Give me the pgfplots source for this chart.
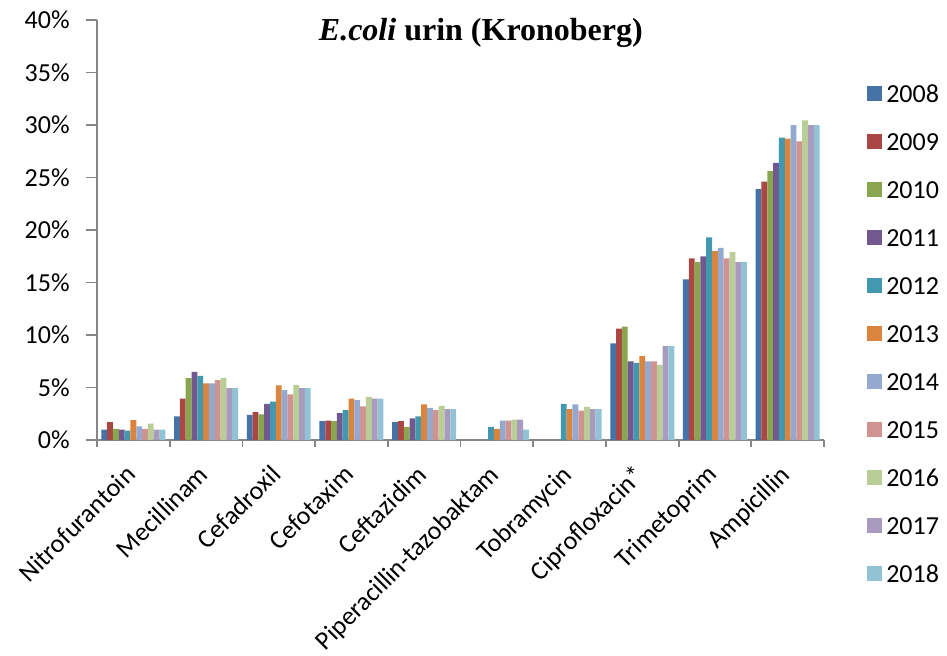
\documentclass[border=0pt]{standalone}
\usepackage{pgfplots}
\pgfplotsset{compat=1.18}
\usepackage{pgfplotstable}
\usepackage{fontspec}
\setmainfont{Carlito}
\newfontfamily\timesfont{Liberation Serif}
\definecolor{c1}{HTML}{4572A7}
\definecolor{c2}{HTML}{AA4643}
\definecolor{c3}{HTML}{89A54E}
\definecolor{c4}{HTML}{71588F}
\definecolor{c5}{HTML}{4198AF}
\definecolor{c6}{HTML}{DB843D}
\definecolor{c7}{HTML}{93A9CF}
\definecolor{c8}{HTML}{D19392}
\definecolor{c9}{HTML}{B9CD96}
\definecolor{c10}{HTML}{A99BBD}
\definecolor{c11}{HTML}{91C3D5}
\definecolor{axisgray}{HTML}{868686}

\pgfplotstableread{
x  a     b     c     d     e     f     g     h     i     j     k
0  1.0   1.7   1.05  1.0   0.9   1.9   1.3   1.05  1.55  1.0   1.0
1  2.25  3.95  5.9   6.5   6.1   5.4   5.4   5.7   5.9   4.95  4.95
2  2.4   2.65  2.45  3.45  3.65  5.2   4.75  4.35  5.25  4.95  4.95
3  1.8   1.85  1.8   2.55  2.85  3.95  3.8   3.2   4.1   3.95  3.95
4  1.7   1.8   1.25  2.05  2.25  3.4   3.05  2.85  3.25  2.95  2.95
5  nan   nan   nan   nan   1.25  1.05  1.85  1.85  1.95  1.95  1.0
6  nan   nan   nan   nan   3.45  2.95  3.4   2.8   3.15  2.95  2.95
7  9.2   10.6  10.8  7.5   7.35  8.0   7.5   7.5   7.15  8.95  8.95
8  15.3  17.3  16.95 17.5  19.3  18.0  18.3  17.3  17.9  16.95 16.95
9  23.9  24.6  25.6  26.4  28.8  28.7  30.0  28.45 30.45 30.0  30.0
}\datatable

\begin{document}
\begin{tikzpicture}
\begin{axis}[
  scale only axis, width=363.5bp, height=210bp,
  at={(0,0)}, anchor=south west,
  xmin=-0.5, xmax=9.5, ymin=0, ymax=40,
  ybar, bar width=0.08,
  axis x line*=bottom, axis y line*=left,
  axis line style={draw=axisgray, line width=0.9bp, -},
  tick align=outside,
  major tick length=5.5bp, minor tick length=3.5bp,
  ytick={0,5,...,40},
  yticklabels={0\%,5\%,10\%,15\%,20\%,25\%,30\%,35\%,40\%},
  ytick style={draw=axisgray, line width=0.9bp},
  xtick={0,...,9},
  xticklabels={Nitrofurantoin,Mecillinam,Cefadroxil,Cefotaxim,Ceftazidim,Piperacillin-tazobaktam,Tobramycin,Ciprofloxacin*,Trimetoprim,Ampicillin},
  major x tick style={draw=none},
  minor xtick={-0.5,0.5,...,9.5},
  minor x tick style={draw=axisgray, line width=0.9bp},
  /pgf/number format/assume math mode=true,
  yticklabel style={font=\fontsize{13bp}{15bp}\selectfont, inner sep=0pt, xshift=-8bp},
  xticklabel style={font=\fontsize{13bp}{15bp}\selectfont, rotate=45, anchor=north east, inner sep=0pt, xshift=-7.5bp, yshift=-1bp},
  title={\timesfont\bfseries\textit{E.coli} urin (Kronoberg)},
  title style={at={(0.528,0.969)}, anchor=center, yshift=-6pt, font=\fontsize{16bp}{19bp}\selectfont},
  legend style={at={(1.059,0.2536)}, anchor=west, draw=none, fill=none, inner sep=0pt,
    font=\fontsize{13bp}{15bp}\selectfont, row sep=11bp,
    nodes={text height=9bp, text depth=0bp, inner sep=2bp}},
  legend cell align=left,
  legend image code/.code={\fill[#1] (0bp,-3.75bp) rectangle (7.5bp,3.75bp);},
]
\addplot[fill=c1, draw=none, bar shift=-0.40] table[x=x, y=a] {\datatable};
\addplot[fill=c2, draw=none, bar shift=-0.32] table[x=x, y=b] {\datatable};
\addplot[fill=c3, draw=none, bar shift=-0.24] table[x=x, y=c] {\datatable};
\addplot[fill=c4, draw=none, bar shift=-0.16] table[x=x, y=d] {\datatable};
\addplot[fill=c5, draw=none, bar shift=-0.08] table[x=x, y=e] {\datatable};
\addplot[fill=c6, draw=none, bar shift=0] table[x=x, y=f] {\datatable};
\addplot[fill=c7, draw=none, bar shift=0.08] table[x=x, y=g] {\datatable};
\addplot[fill=c8, draw=none, bar shift=0.16] table[x=x, y=h] {\datatable};
\addplot[fill=c9, draw=none, bar shift=0.24] table[x=x, y=i] {\datatable};
\addplot[fill=c10, draw=none, bar shift=0.32] table[x=x, y=j] {\datatable};
\addplot[fill=c11, draw=none, bar shift=0.40] table[x=x, y=k] {\datatable};
\legend{2008,2009,2010,2011,2012,2013,2014,2015,2016,2017,2018}
\end{axis}
\path[use as bounding box] (-48.5bp,-108bp) rectangle (425bp,220bp);
\end{tikzpicture}
\end{document}
